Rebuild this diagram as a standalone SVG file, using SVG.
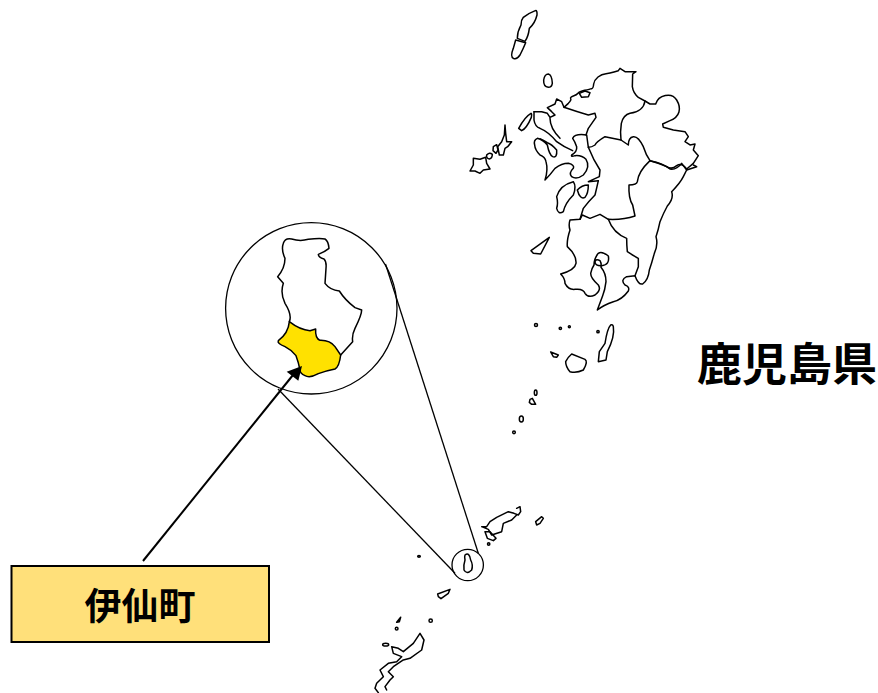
<svg xmlns="http://www.w3.org/2000/svg" width="878" height="693" viewBox="0 0 878 693">
<style>
.m{fill:none;stroke:#000;stroke-width:4.5;stroke-linejoin:round;stroke-linecap:round}
.d{fill:none;stroke:#000;stroke-width:1.3}
.j{font-family:"Noto Sans CJK JP","Liberation Sans",sans-serif;font-weight:700;fill:#000;text-anchor:middle}
</style>
<rect width="878" height="693" fill="#fff"/>
<g id="map-north" class="m" transform="translate(460 0) scale(.33333)">
<path d="M226 32Q205 40 190 52Q183 60 183 75Q172 95 172 115L195 124Q205 110 208 85Q225 70 231 45Q232 30 226 32Z"/>
<path d="M167 120L197 128Q190 145 180 165Q170 180 160 175Q150 170 160 145Z"/>
<path d="M251 240Q254 222 265 222Q276 225 277 250Q275 262 265 262Q250 260 251 240Z"/>
<path d="M213 340Q195 350 176 385L185 392Q200 385 214 352Q216 340 213 340Z"/>
<path d="M135 375L137 400L140 425L155 425L143 440L135 445L130 465L118 465L113 440L125 425L133 405Z"/>
<path d="M100 440L110 434L114 450L108 460L99 452Z"/>
<path d="M80 465Q88 455 97 463Q97 475 88 477Q78 475 80 465Z"/>
<path d="M40 475L60 478L77 472L80 490L90 507L70 510L60 520L45 513L30 513L40 495Z"/>
<path d="M312 322L325 310Q335 300 332 296Q330 292 340 288Q350 285 354 280Q358 275 374 271Q390 268 395 266Q400 265 401 252Q403 240 414 231Q425 222 438 221Q450 220 462 216L475 212L480 205L495 215L528 215L518 222L517 260Q520 280 535 292L555 303L570 312L587 312C595 285 635 275 650 300C665 325 660 350 630 362L608 372L610 382L640 390L675 395L685 410L675 425L690 435L705 432L700 450L715 467L700 490L680 507"/>
<path d="M358 280L375 273L390 278L385 290L365 292Z"/>
<path d="M555 303Q550 335 510 340Q490 345 484 370Q480 395 483 420L505 435Q505 412 520 410Q535 408 550 440Q558 465 570 482Q600 490 620 500Q635 510 650 497Q665 487 680 507"/>
<path d="M483 420L435 410Q410 425 405 435Q395 442 385 442L380 405Q345 400 338 415Q345 425 350 440Q352 455 335 465Q332 472 345 467Q365 465 378 478Q392 500 370 525Q350 540 335 530Q325 520 340 505Q345 495 325 490Q305 490 285 505Q270 525 255 540Q265 510 258 485Q255 470 240 465Q225 450 224 435Q220 420 232 415Q250 420 262 435Q268 465 278 470Q292 475 290 450Q275 432 262 428Q250 420 240 416"/>
<path d="M385 442Q400 480 420 510L418 530L385 545L415 542"/>
<path d="M222 335L222 360Q225 380 240 385Q265 395 290 425Q310 440 338 452"/>
<path d="M222 335L245 335L262 340L270 352L285 345L275 335L262 323L285 312L290 297L305 305L312 322Q350 335 385 345L405 340L408 352L385 385L378 405"/>
<path d="M270 355Q270 385 300 415"/>
</g>
<g id="map-south" class="m" transform="translate(520 130) scale(.33333)">
<path d="M235 152Q230 175 225 195Q205 215 190 235L180 268L150 270Q145 285 150 300Q140 330 142 350Q170 375 168 400Q165 420 122 432Q135 445 135 460Q145 480 165 478Q190 475 195 490Q205 505 225 495Q245 480 235 465Q212 445 212 430Q215 415 222 405Q222 385 235 370Q245 362 265 378Q270 405 245 407Q225 408 225 395Q228 385 240 392Q245 400 243 412Q258 430 258 455Q255 480 248 497L232 540Q250 525 280 515Q305 510 325 483Q330 470 315 465Q300 450 320 440L345 437Q355 465 368 462Q385 450 388 420Q395 400 403 370Q415 345 408 320Q415 300 420 275Q430 250 442 228Q462 205 455 185Q480 160 490 140L500 120L530 110L520 105"/>
<path d="M180 268L187 255L210 265L240 253L265 268Q310 270 345 258L338 225Q325 205 327 165Q350 165 352 155Q355 125 390 92"/>
<path d="M390 92Q430 100 450 117Q470 120 485 100L500 120"/>
<path d="M265 268Q280 310 320 325Q320 345 322 365Q345 380 355 385L355 410L345 437"/>
<path d="M110 200Q120 165 160 155Q170 170 160 195Q135 220 130 245Q115 255 110 235Q115 220 110 200Z"/>
<path d="M172 180Q185 165 205 165Q205 190 195 202Q180 210 172 180Z"/>
<path d="M88 322L33 362L40 370L62 372Z"/>
<path d="M272 585Q262 595 255 640L238 665L235 695L258 690L262 665Q285 620 280 590Q278 582 272 585Z"/>
<path d="M137 695Q145 680 155 672Q175 680 195 688Q205 695 190 720Q170 730 150 725Q137 710 137 695Z"/>
<path d="M92 666L115 675L110 682L100 680Z"/>
<circle cx="48" cy="585" r="4.500"/><circle cx="121" cy="595" r="3.500"/><circle cx="148" cy="590" r="3"/><circle cx="234" cy="605" r="3.500"/>
</g>
<g id="map-tokara" class="m" transform="translate(500 310) scale(.33333)">
<ellipse cx="107" cy="248" rx="4" ry="8"/>
<path d="M90 268L97 265L107 283L95 283L88 277Z"/>
<ellipse cx="64" cy="327" rx="6" ry="9"/>
<circle cx="42" cy="367" r="4"/>
</g>
<g id="map-ryukyu" class="m" transform="translate(370 490) scale(.33333)">
<path d="M440 55L450 50L452 65L445 75L432 70L415 65L380 82L360 95L350 110L335 110L355 118L365 135L395 125L400 100L425 90L440 75"/>
<path d="M345 125L360 125L378 145L370 152L352 145Z"/>
<circle cx="356" cy="162" r="3.500"/>
<path d="M497 95L515 80L520 85L510 100L500 105Z"/>
<ellipse cx="147" cy="199" rx="4" ry="2.500"/>
<path d="M203 312L240 298L235 310L213 326L205 320Z"/>
<path d="M92 382L80 397L88 395Z"/>
<circle cx="80" cy="416" r="4"/><circle cx="182" cy="392" r="5"/><ellipse cx="47" cy="464" rx="9" ry="4"/>
<path d="M65 470L70 490L95 500L80 515L55 520L30 540L40 560L20 580L15 595L25 608M50 600L45 590L60 570L70 560L55 545L70 530L100 510L120 505L155 480L162 450L150 430L130 460L100 485L85 475L65 470"/>
<path d="M285 195Q298 185 302 210Q310 225 305 240Q290 255 282 240Q280 225 285 210Q283 200 285 195Z"/>
</g>
<g id="zoom-lines" class="d">
<circle cx="467.7" cy="565" r="15.7"/>
<circle cx="311.3" cy="308.3" r="85.7"/>
<path d="M385.5 264L478.3 553.3"/>
<path d="M278 389L455 573.3"/>
</g>
<g id="town-detail" transform="translate(220 215) scale(.33333)">
<path class="m" d="M208 320Q217 300 195 265Q180 235 190 205L173 185Q195 160 195 130Q183 105 190 85Q195 68 215 72Q240 80 265 73Q300 68 315 72Q325 78 327 100Q315 110 295 118Q295 128 312 132Q320 140 318 160L315 205Q330 225 358 228Q375 255 405 278L425 285Q425 300 405 340Q395 360 398 380L362 420"/>
<path d="M208 320Q240 345 270 347L287 342Q285 370 300 376Q330 375 345 395L362 420Q358 455 345 462Q315 468 295 476Q270 490 255 482Q240 475 240 465Q235 440 228 422Q215 405 195 395Q170 385 175 377Q205 355 208 320Z" fill="#ffe100" stroke="#000" stroke-width="4.500" stroke-linejoin="round"/>
</g>
<g id="connectors">
<path d="M143 561L293 375" fill="none" stroke="#000" stroke-width="2"/>
<path d="M302 366L286.700 371.700L298.300 380.700Z" fill="#000"/>
</g>
<g id="label-town">
<rect x="11.500" y="566" width="257.500" height="76" fill="#ffe07a" stroke="#000" stroke-width="2"/>
<text class="j" x="140" y="620" font-size="37">伊仙町</text>
</g>
<g id="label-pref">
<text class="j" x="787" y="381" font-size="45">鹿児島県</text>
</g>
</svg>
